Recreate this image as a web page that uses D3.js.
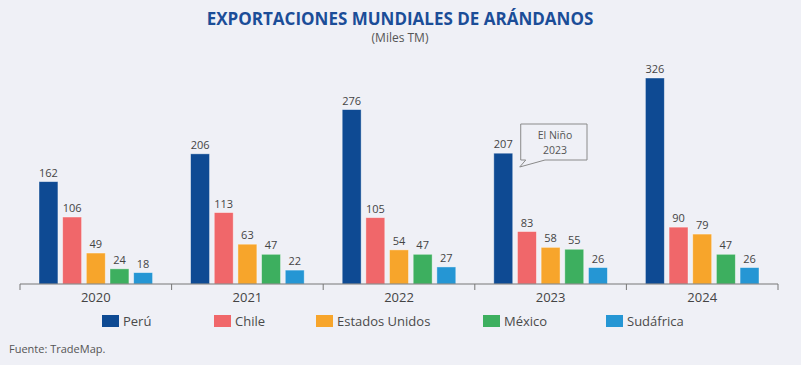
<!DOCTYPE html>
<html><head><meta charset="utf-8">
<script src="https://cdn.jsdelivr.net/npm/d3@7"></script>
<style>
html,body{margin:0;padding:0;background:#eff0f6;}
svg{display:block;font-family:"Open Sans","Noto Sans",sans-serif;}
</style></head>
<body><svg id="c" width="801" height="365"></svg>
<script>
const years = ["2020","2021","2022","2023","2024"];
const seriesNames = ["Perú","Chile","Estados Unidos","México","Sudáfrica"];
const peru = [162,206,276,207,326];
const chile = [106,113,105,83,90];
const eeuu = [49,63,54,58,79];
const mexico = [24,47,47,55,47];
const sudafrica = [18,22,27,26,26];
const colors = ["#0e4a93","#f0676a","#f7a52b","#3daf5f","#2596d4"];
const values = [peru,chile,eeuu,mexico,sudafrica];

const svg = d3.select("#c");
const pLeft=20,pRight=778,pBase=284,pTop=78;

const x0 = d3.scaleBand().domain(years).range([pLeft,pRight]).padding(0);
const x1 = d3.scaleBand().domain(seriesNames).range([19, x0.bandwidth()-19]).paddingInner(0.2);
const y = d3.scaleLinear().domain([0,326]).range([pBase, pTop]);

// title
svg.append("text").attr("x",400).attr("y",25).attr("text-anchor","middle")
  .attr("font-size",17).attr("font-weight","bold").attr("fill","#1b4d98")
  .text("EXPORTACIONES MUNDIALES DE ARÁNDANOS");
svg.append("text").attr("x",400).attr("y",42).attr("text-anchor","middle")
  .attr("font-size",12).attr("fill","#555").text("(Miles TM)");

// bars
const g = svg.append("g");
years.forEach((yr,i)=>{
  seriesNames.forEach((s,j)=>{
    const v = values[j][i];
    const bx = x0(yr)+x1(s);
    g.append("rect").attr("x",bx).attr("y",y(v)).attr("width",x1.bandwidth())
      .attr("height",pBase-y(v)).attr("fill",colors[j])
      .attr("stroke","#ffffff").attr("stroke-opacity",0.5).attr("stroke-width",0.8);
    g.append("text").attr("x",bx+x1.bandwidth()/2).attr("y",y(v)-5)
      .attr("text-anchor","middle").attr("font-size",11).attr("fill","#444").text(v);
  });
});

// axis
const ax = svg.append("g").attr("transform",`translate(0,${pBase})`)
  .call(d3.axisBottom(x0).tickSize(0).tickPadding(9));
ax.select(".domain").attr("stroke","#777").attr("d",`M${pLeft},0H${pRight}`);
ax.selectAll("text").attr("font-size",13).attr("fill","#444").attr("font-family","Open Sans, Noto Sans, sans-serif");
const bounds = years.map(yr=>x0(yr)).concat([pRight]);
svg.selectAll("line.sep").data(bounds).enter().append("line")
  .attr("x1",d=>d).attr("x2",d=>d).attr("y1",pBase).attr("y2",pBase+6)
  .attr("stroke","#777");

// legend
const legX = [102,214,316,483,606];
seriesNames.forEach((s,j)=>{
  svg.append("rect").attr("x",legX[j]).attr("y",315).attr("width",17).attr("height",12).attr("fill",colors[j]);
  svg.append("text").attr("x",legX[j]+21).attr("y",326).attr("font-size",13).attr("fill","#4a4a4a").text(s);
});

// source
svg.append("text").attr("x",9).attr("y",353).attr("font-size",11).attr("fill","#555").text("Fuente: TradeMap.");

// callout
const cx = x0("2023")+x1("Perú")+x1.bandwidth();
const bl = cx+8;
const co = svg.append("g");
co.append("path")
  .attr("d",`M${bl},124H587V160H545L${bl-1},167L${bl+5},160H${bl}Z`)
  .attr("fill","#eff0f6").attr("stroke","#8a8a8a").attr("stroke-width",1);
co.append("text").attr("x",555).attr("y",139).attr("text-anchor","middle").attr("font-size",10.5).attr("fill","#555").text("El Niño");
co.append("text").attr("x",555).attr("y",154).attr("text-anchor","middle").attr("font-size",10.5).attr("fill","#555").text("2023");
</script></body></html>
